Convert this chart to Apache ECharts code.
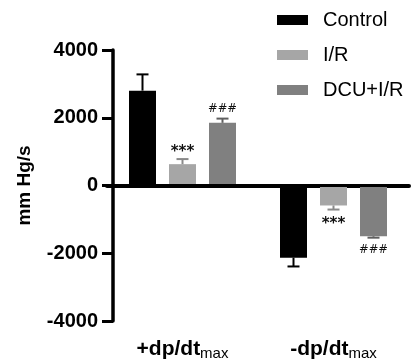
<!DOCTYPE html>
<html>
<head>
<meta charset="utf-8">
<script src="https://cdn.jsdelivr.net/npm/echarts@6/dist/echarts.min.js"></script>
<style>html,body{margin:0;padding:0;background:#fff;}#chart{width:413px;height:363px;}</style>
</head>
<body>
<div id="chart"></div>
<script>
// ---- data ----
var categories = ['+dp/dt_max', '-dp/dt_max'];
var seriesNames = ['Control', 'I/R', 'DCU+I/R'];
var controlVals = [2800, -2130];
var irVals = [630, -590];
var dcuVals = [1850, -1500];
var controlSem = [480, 260];
var irSem = [150, 120];
var dcuSem = [125, 40];
var controlMarks = ['', ''];
var irMarks = ['***', '***'];
var dcuMarks = ['###', '###'];
var yTicks = [-4000, -2000, 0, 2000, 4000];

// ---- styles ----
var FONT = 'Liberation Sans, Arial, sans-serif';
var BAR_W = 27, BAR_GAP = 13;
var colors = ['#000000', '#a6a6a6', '#808080'];
var errColors = ['#000000', '#8a8a8a', '#5f5f5f'];

var chart = echarts.init(document.getElementById('chart'), null, {renderer: 'canvas'});

function barSeries(name, vals, color, withZero) {
  var s = {
    name: name, type: 'bar', data: vals, barWidth: BAR_W, barGap: (BAR_GAP / BAR_W * 100) + '%',
    itemStyle: {color: color}, z: 2
  };
  if (withZero) {
    s.markLine = {
      silent: true, symbol: ['none', 'none'], label: {show: false},
      lineStyle: {color: '#000', width: 3, type: 'solid'},
      data: [{yAxis: 0}], z: 5
    };
  }
  return s;
}

function errSeries(vals, sems, marks, idx) {
  return {
    type: 'custom', z: 4, silent: true,
    data: vals.map(function (v, i) { return [i, v, sems[i]]; }),
    renderItem: function (params, api) {
      var i = api.value(0), v = api.value(1), s = api.value(2);
      var end = v >= 0 ? v + s : v - s;
      var p0 = api.coord([i, v]);
      var p1 = api.coord([i, end]);
      var x = p0[0] + (idx - 1) * (BAR_W + BAR_GAP);
      var c = errColors[idx];
      var mark = marks[params.dataIndex];
      var isStar = mark.indexOf('*') >= 0;
      var ty = v >= 0 ? p1[1] - 10 : p1[1] + 12;
      var font = isStar ? 'bold 15px DejaVu Sans' : '11.5px DejaVu Sans';
      return {
        type: 'group',
        children: [
          {type: 'line', shape: {x1: x, y1: p0[1], x2: x, y2: p1[1]}, style: {stroke: c, lineWidth: 2}},
          {type: 'line', shape: {x1: x - 6, y1: p1[1], x2: x + 6, y2: p1[1]}, style: {stroke: c, lineWidth: 2}},
          {type: 'text', style: {text: mark, x: x, y: ty + (isStar ? 3 : 0), align: 'center', verticalAlign: 'middle',
            font: font, fill: '#111'}}
        ]
      };
    }
  };
}

var option = {
  animation: false,
  backgroundColor: '#fff',
  textStyle: {fontFamily: FONT, color: '#000'},
  legend: {
    orient: 'vertical', left: 272, top: 5,
    itemWidth: 31, itemHeight: 10, itemGap: 15,
    icon: 'rect',
    data: seriesNames,
    textStyle: {fontFamily: FONT, fontSize: 20, color: '#000', padding: [0, 0, 0, 10]}
  },
  grid: {left: 107, width: 302, top: 50, bottom: 42, containLabel: false},
  xAxis: {
    type: 'category', data: categories,
    axisLine: {lineStyle: {color: '#000', width: 4}},
    axisTick: {alignWithLabel: true, length: 10, lineStyle: {color: '#000', width: 3}},
    axisLabel: {
      margin: 17,
      formatter: function (val) {
        var p = val.split('_');
        return '{a|' + p[0] + '}{b|' + p[1] + '}';
      },
      rich: {
        a: {fontFamily: FONT, fontSize: 21, fontWeight: 'bold', color: '#000'},
        b: {fontFamily: FONT, fontSize: 15, color: '#000', verticalAlign: 'bottom', padding: [8, 0, 0, 0]}
      }
    },
    splitLine: {show: false}
  },
  yAxis: {
    type: 'value', min: yTicks[0], max: yTicks[yTicks.length - 1], interval: 2000,
    offset: -6,
    name: 'mm Hg/s', nameLocation: 'middle', nameRotate: 90, nameGap: 79,
    nameTextStyle: {fontFamily: FONT, fontSize: 19, fontWeight: 'bold', color: '#000'},
    axisLine: {show: true, lineStyle: {color: '#000', width: 3.5}},
    axisTick: {show: true, length: 11, lineStyle: {color: '#000', width: 3}},
    axisLabel: {margin: 15, fontFamily: FONT, fontSize: 20, fontWeight: 'bold', color: '#000',
      formatter: function (v) { return String(v); }},
    splitLine: {show: false}
  },
  series: [
    barSeries(seriesNames[0], controlVals, colors[0], true),
    barSeries(seriesNames[1], irVals, colors[1], false),
    barSeries(seriesNames[2], dcuVals, colors[2], false),
    errSeries(controlVals, controlSem, controlMarks, 0),
    errSeries(irVals, irSem, irMarks, 1),
    errSeries(dcuVals, dcuSem, dcuMarks, 2)
  ]
};
chart.setOption(option);
</script>
</body>
</html>
